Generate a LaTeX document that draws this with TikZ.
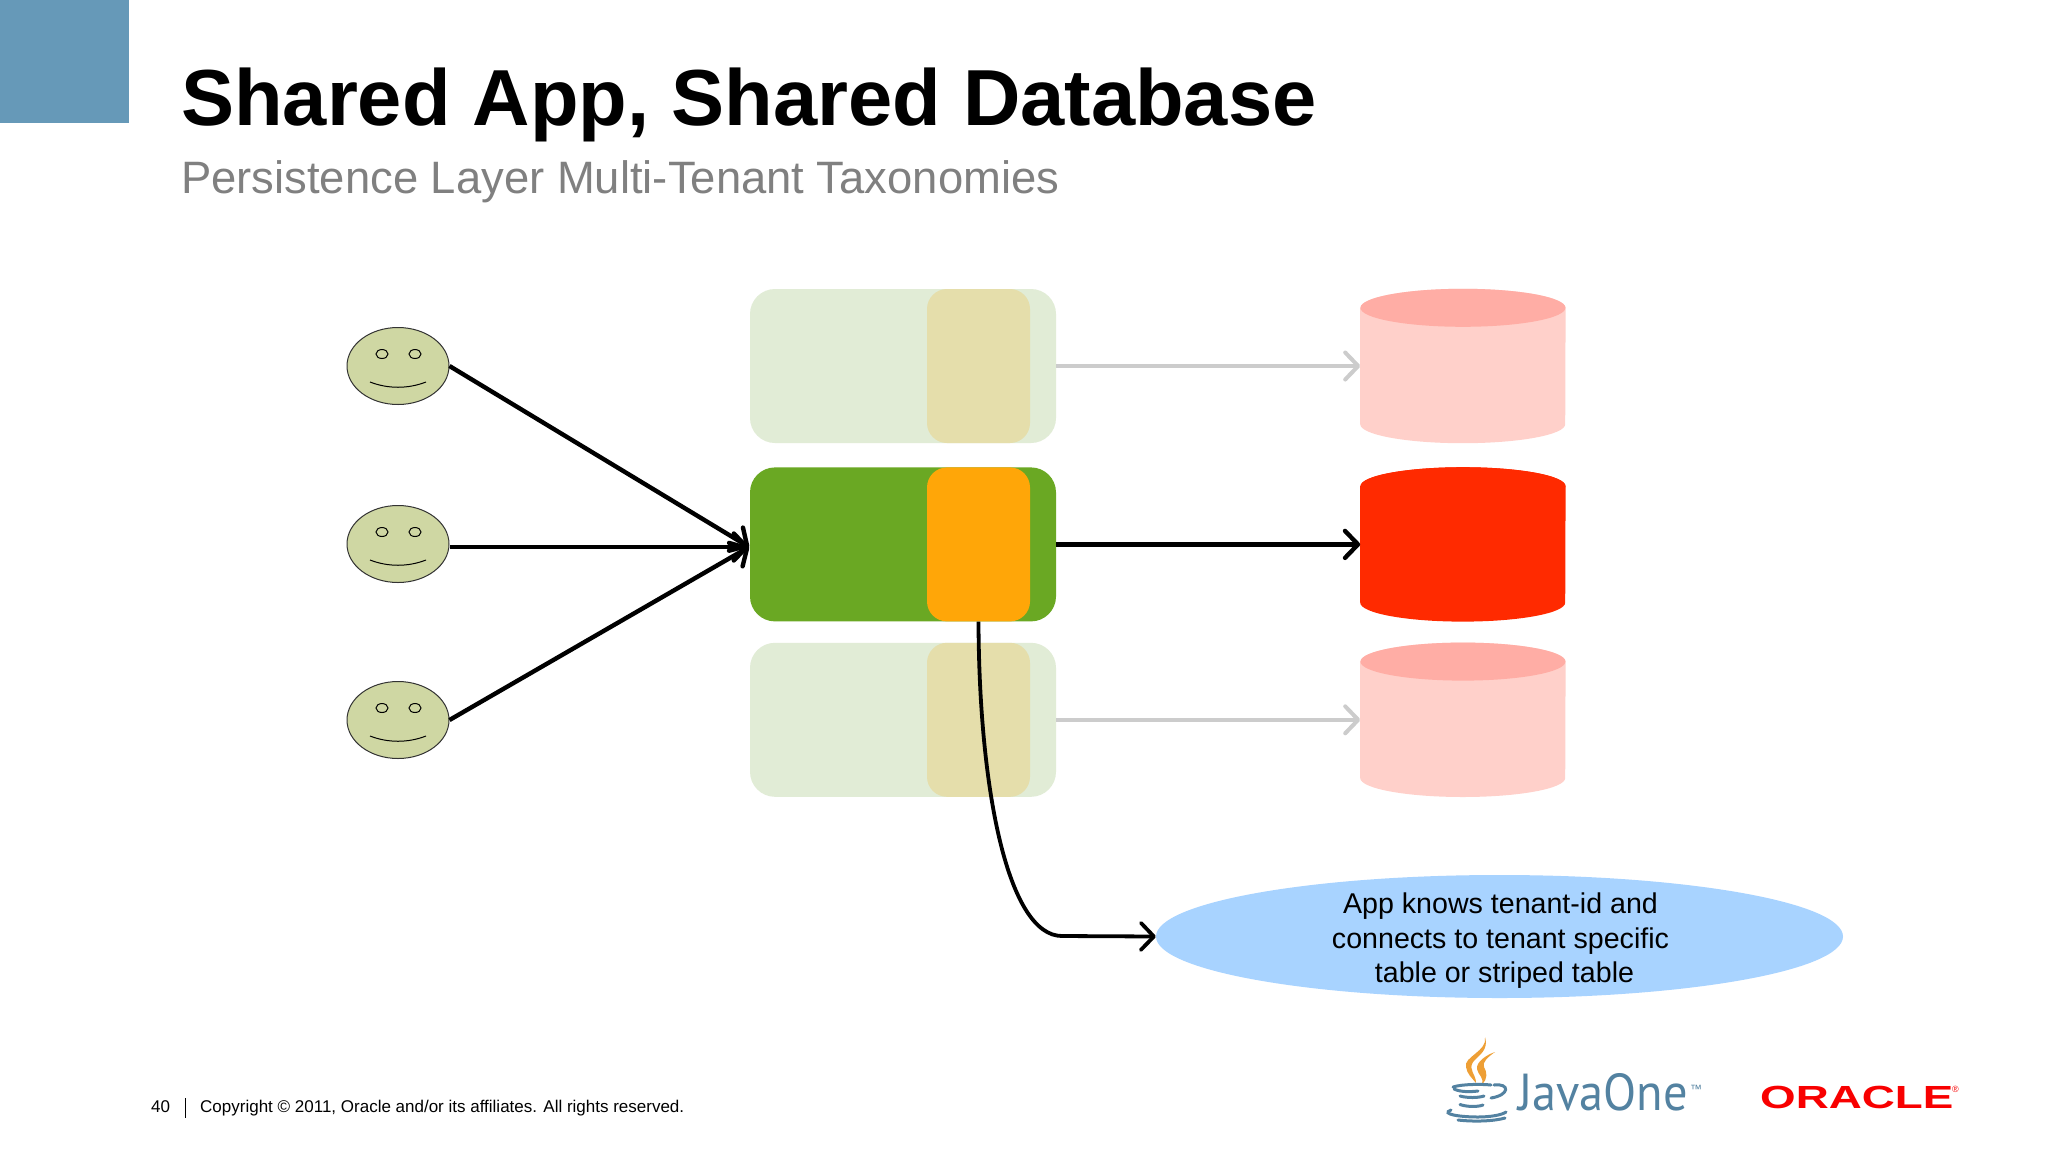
\documentclass[tikz,border=0pt]{standalone}
\usepackage{fontspec}
\setmainfont{Liberation Sans}
\newfontfamily\javafont{PT Sans}
\usepackage{xcolor}
\usetikzlibrary{shapes.geometric, arrows.meta, positioning}
\definecolor{corner}{HTML}{6699B8}
\definecolor{facefill}{HTML}{CFD7A3}
\definecolor{appgreen}{HTML}{6AA823}
\definecolor{appgreenpale}{HTML}{E1ECD6}
\definecolor{tagorange}{HTML}{FFA608}
\definecolor{tagorangepale}{HTML}{E5DEAB}
\definecolor{dbred}{HTML}{FF2A00}
\definecolor{dbbody}{HTML}{FFD0CA}
\definecolor{dbtop}{HTML}{FFADA5}
\definecolor{notefill}{HTML}{A8D3FF}
\definecolor{javablue}{HTML}{5382A1}
\definecolor{javaflame}{HTML}{EE9F35}
\definecolor{oraclered}{HTML}{F80000}
\tikzset{
  face/.style={ellipse, draw=black!80, fill=facefill, line width=1pt, minimum width=102pt, minimum height=77pt, inner sep=0pt},
  app/.style={rectangle, rounded corners=25pt, minimum width=306pt, minimum height=154pt, inner sep=0pt},
  tag/.style={rectangle, rounded corners=20pt, minimum width=103pt, minimum height=154pt, inner sep=0pt},
  db/.style={rectangle, minimum width=205pt, minimum height=154pt, inner sep=0pt},
  note/.style={ellipse, fill=notefill, minimum width=687pt, minimum height=123pt, inner sep=0pt},
  arrow/.style={-{Straight Barb[length=13pt, width=27pt, round]}, line width=4.4pt},
  palearrow/.style={-{Straight Barb[length=13pt, width=27pt, round]}, line width=4pt, draw=black!20},
  cupline/.style={javablue, line width=3pt, line cap=round},
  flame/.style={fill=javaflame, draw=none},
}
% body and lid of a database, on a db node
\newcommand{\dbdrum}[3]{
  \fill[#2] ([yshift=-19pt]#1.north west) -- ([yshift=19pt]#1.south west) arc[start angle=180, end angle=360, x radius=102.5pt, y radius=19pt] -- ([yshift=-19pt]#1.north east) arc[start angle=0, end angle=180, x radius=102.5pt, y radius=19pt] -- cycle;
  \fill[#3] ([yshift=-19pt]#1.north) ellipse[x radius=102.5pt, y radius=19pt];
}

\begin{document}
\begin{tikzpicture}[x=1pt, y=-1pt]
\useasboundingbox (0,0) rectangle (2048,1152);
\fill[white] (0,0) rectangle (2048,1152);
\fill[corner] (0,0) rectangle (129,123);
\node[anchor=base west, inner sep=0pt, font=\fontsize{79.5}{85}\selectfont\bfseries] (title) at (181,125) {Shared App, Shared Database};
\node[anchor=base west, inner sep=0pt, text=black!50, font=\fontsize{45.4}{50}\selectfont] (subtitle) at (181,193) {Persistence Layer Multi-Tenant Taxonomies};

% tenants
\foreach \name/\ypos in {tenantA/366, tenantB/544, tenantC/720} {
  \node[face] (\name) at (398,\ypos) {};
  \draw[line width=1pt] ([shift={(-16,-12)}]\name.center) circle[x radius=6, y radius=4.5];
  \draw[line width=1pt] ([shift={(17,-12)}]\name.center) circle[x radius=6, y radius=4.5];
  \draw[line width=1pt] ([shift={(-28,16)}]\name.center) .. controls +(18,7) and +(-18,7) .. +(56,0);
}

% apps and databases
\node[app, fill=appgreenpale] (appA) at (903,366) {};
\node[app, fill=appgreen, below=24pt of appA] (appB) {};
\node[app, fill=appgreenpale, below=21pt of appB] (appC) {};
\node[tag, fill=tagorangepale, right=177pt of appA.west] (tagA) {};
\node[tag, fill=tagorange, right=177pt of appB.west] (tagB) {};
\node[tag, fill=tagorangepale, right=177pt of appC.west] (tagC) {};
\node[db, right=304pt of appA] (dbA) {};
\node[db, right=304pt of appB] (dbB) {};
\node[db, right=304pt of appC] (dbC) {};
\dbdrum{dbA}{dbbody}{dbtop}
\dbdrum{dbB}{dbred}{dbred}
\dbdrum{dbC}{dbbody}{dbtop}

\node[note] (note) at (1499.5,936.5) {};
\node[align=center, inner sep=0pt, font=\fontsize{28.6}{34.5}\selectfont] (notetext) at (1500.5,941) {App knows tenant-id and\\connects to tenant specific\\\ table or striped table};

\coordinate (hub) at (749,547);
\coordinate (bend) at (1062,936);
\draw[arrow] (tenantA.east) -- (hub);
\draw[arrow] (tenantB.east |- hub) -- (hub);
\draw[arrow] (tenantC.east) -- (hub);
\draw[palearrow] (appA) -- (dbA);
\draw[arrow] (appB) -- (dbB);
\draw[palearrow] (appC) -- (dbC);
\draw[arrow, line width=3.8pt] (tagB.south) .. controls (979,790) and (1008,936) .. (bend) -- (note.west);

% footer
\node[anchor=base west, inner sep=0pt, font=\fontsize{17}{20}\selectfont] (page) at (151,1112) {40};
\draw[line width=1pt] (185,1098) -- (185,1118);
\node[anchor=base west, inner sep=0pt, font=\fontsize{17}{20}\selectfont] (copyright) at (200,1112) {Copyright © 2011, Oracle and/or its affiliates. All rights reserved.};

% logos
\fill[flame] (1485,1037) .. controls (1488,1051) and (1463,1057) .. (1466,1067) .. controls (1467,1074) and (1472,1078) .. (1476,1083) .. controls (1476,1074) and (1468,1070) .. (1473,1062) .. controls (1479,1055) and (1489,1050) .. (1485,1037) -- cycle;
\fill[flame] (1495,1052) .. controls (1486,1055) and (1476,1062) .. (1477,1069) .. controls (1478,1075) and (1484,1077) .. (1482,1084) .. controls (1488,1079) and (1487,1072) .. (1484,1067) .. controls (1482,1062) and (1488,1057) .. (1495,1052) -- cycle;
\draw[cupline] (1453,1087) .. controls (1462,1084) and (1482,1084) .. (1491,1085);
\draw[cupline] (1454,1089) .. controls (1460,1092) and (1470,1092) .. (1478,1091);
\draw[cupline] (1460,1096) .. controls (1467,1098) and (1478,1098) .. (1484,1096);
\draw[cupline] (1494,1085) .. controls (1510,1083) and (1510,1095) .. (1491,1098);
\draw[cupline] (1460,1104.5) .. controls (1467,1107) and (1478,1107) .. (1483,1105);
\draw[cupline] (1451,1110) .. controls (1440,1114) and (1460,1117) .. (1478,1117) .. controls (1490,1117) and (1502,1115) .. (1506,1112);
\draw[cupline] (1458,1120) .. controls (1475,1122) and (1495,1121) .. (1505,1118);
\node[anchor=base west, inner sep=0pt, text=javablue, font=\javafont\fontsize{52}{56}\selectfont] (javaone) at (1518,1110) {\scalebox{0.93}[1]{JavaOne}};
\node[anchor=base west, inner sep=0pt, text=javablue, font=\fontsize{12}{14}\selectfont] (trademark) at (1690,1093) {™};
\node[anchor=base west, inner sep=0pt, text=oraclered, font=\fontsize{32}{36}\selectfont\bfseries] (oracle) at (1760,1108) {\scalebox{1.43}[1]{ORACLE}};
\node[anchor=base west, inner sep=0pt, text=oraclered, font=\fontsize{9}{10}\selectfont] (registered) at (1952,1092) {®};
\end{tikzpicture}
\end{document}
